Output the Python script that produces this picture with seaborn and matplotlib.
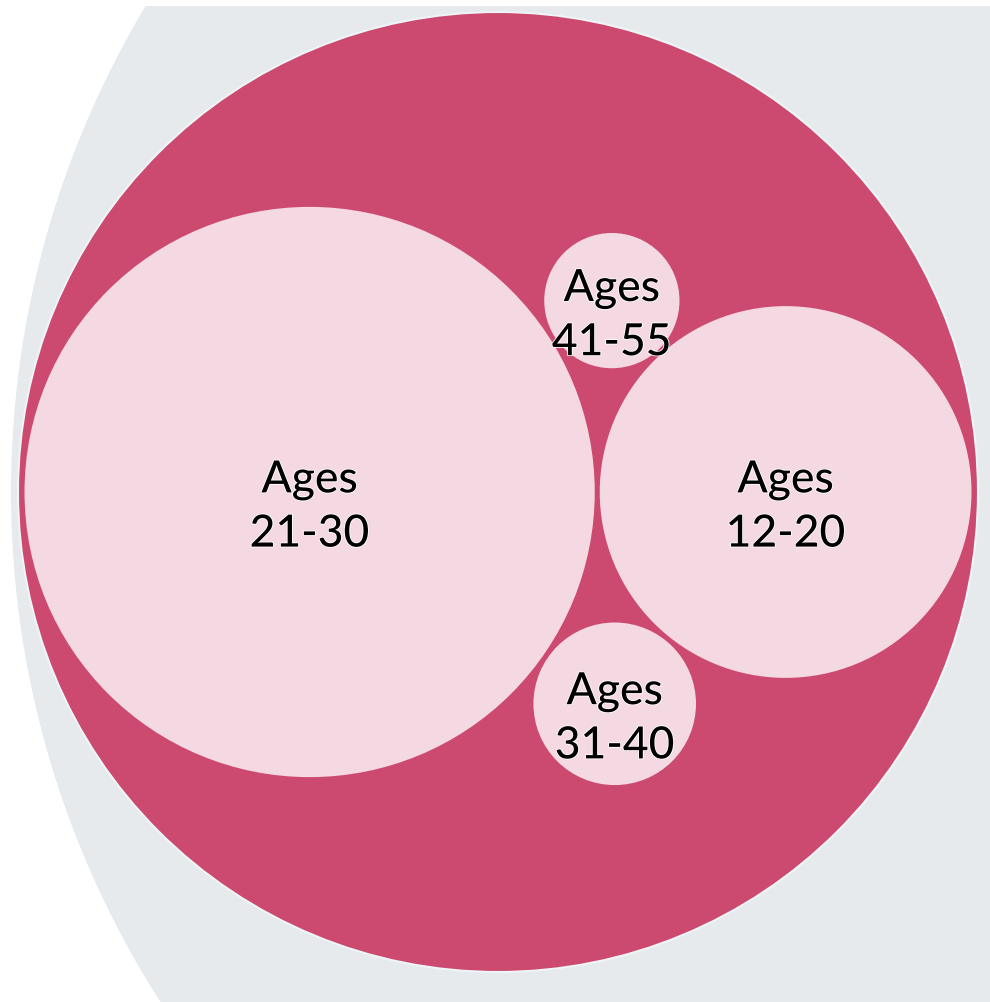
import numpy as np
import matplotlib.pyplot as plt
import matplotlib.patheffects as pe
from matplotlib.patches import Circle
import seaborn as sns

######################################### DATA #########################################

groups = ['Ages 21-30', 'Ages 12-20', 'Ages 41-55', 'Ages 31-40']
shares = [64.0, 27.2, 3.6, 5.2]   # share of respondents (%), read from circle areas

######################################### STYLE #########################################

sns.set_theme(style='white')
plt.rcParams['font.family'] = ['Lato', 'DejaVu Sans']

parent_color = '#e6eaed'
group_color = '#cc4a70'
leaf_color = '#f5d9e2'

W, H = 990, 1003
pad, outer_pad = 5, 6.5
outer_r, outer_c = 480, (498, 493)

######################################### PACK LAYOUT #########################################

r = np.sqrt(np.array(shares))
k = (outer_r - outer_pad - pad / 2) / (r[0] + r[1])
r = r * k

# two largest side by side, the small ones in the gaps above / below
ca = (outer_c[0] - outer_r + outer_pad + r[0], outer_c[1])
cb = (ca[0] + r[0] + r[1] + pad, outer_c[1])


def tangent(p1, r1, p2, r2, r3, side):
    d = p2[0] - p1[0]
    d1, d2 = r1 + r3 + pad, r2 + r3 + pad
    a = (d1 ** 2 - d2 ** 2 + d ** 2) / (2 * d)
    h = np.sqrt(d1 ** 2 - a ** 2)
    return (p1[0] + a, p1[1] + side * h)


centers = [ca, cb,
           tangent(ca, r[0], cb, r[1], r[2], -1),
           tangent(ca, r[0], cb, r[1], r[3], 1)]

######################################### PLOT #########################################

fig = plt.figure(figsize=(W / 100, H / 100), dpi=100, facecolor='white')
ax = fig.add_axes([0, 0, 1, (H - 7) / H])
ax.set_xlim(0, W)
ax.set_ylim(H, 7)
ax.axis('off')

ax.add_patch(Circle((956, 493), 945, facecolor=parent_color, edgecolor='none'))
ax.add_patch(Circle(outer_c, outer_r, facecolor=group_color, edgecolor='#eef5f6', linewidth=1.5))

for label, (x, y), rad in zip(groups, centers, r):
    ax.add_patch(Circle((x, y), rad, facecolor=leaf_color, edgecolor='none'))
    ax.text(x, y + 15, label.replace(' ', '\n'), ha='center', va='center',
            fontsize=32, color='black', linespacing=1.4, fontweight='medium',
            path_effects=[pe.withStroke(linewidth=1.2, foreground='white')])

fig.savefig('out.png', dpi=100, facecolor='white')
